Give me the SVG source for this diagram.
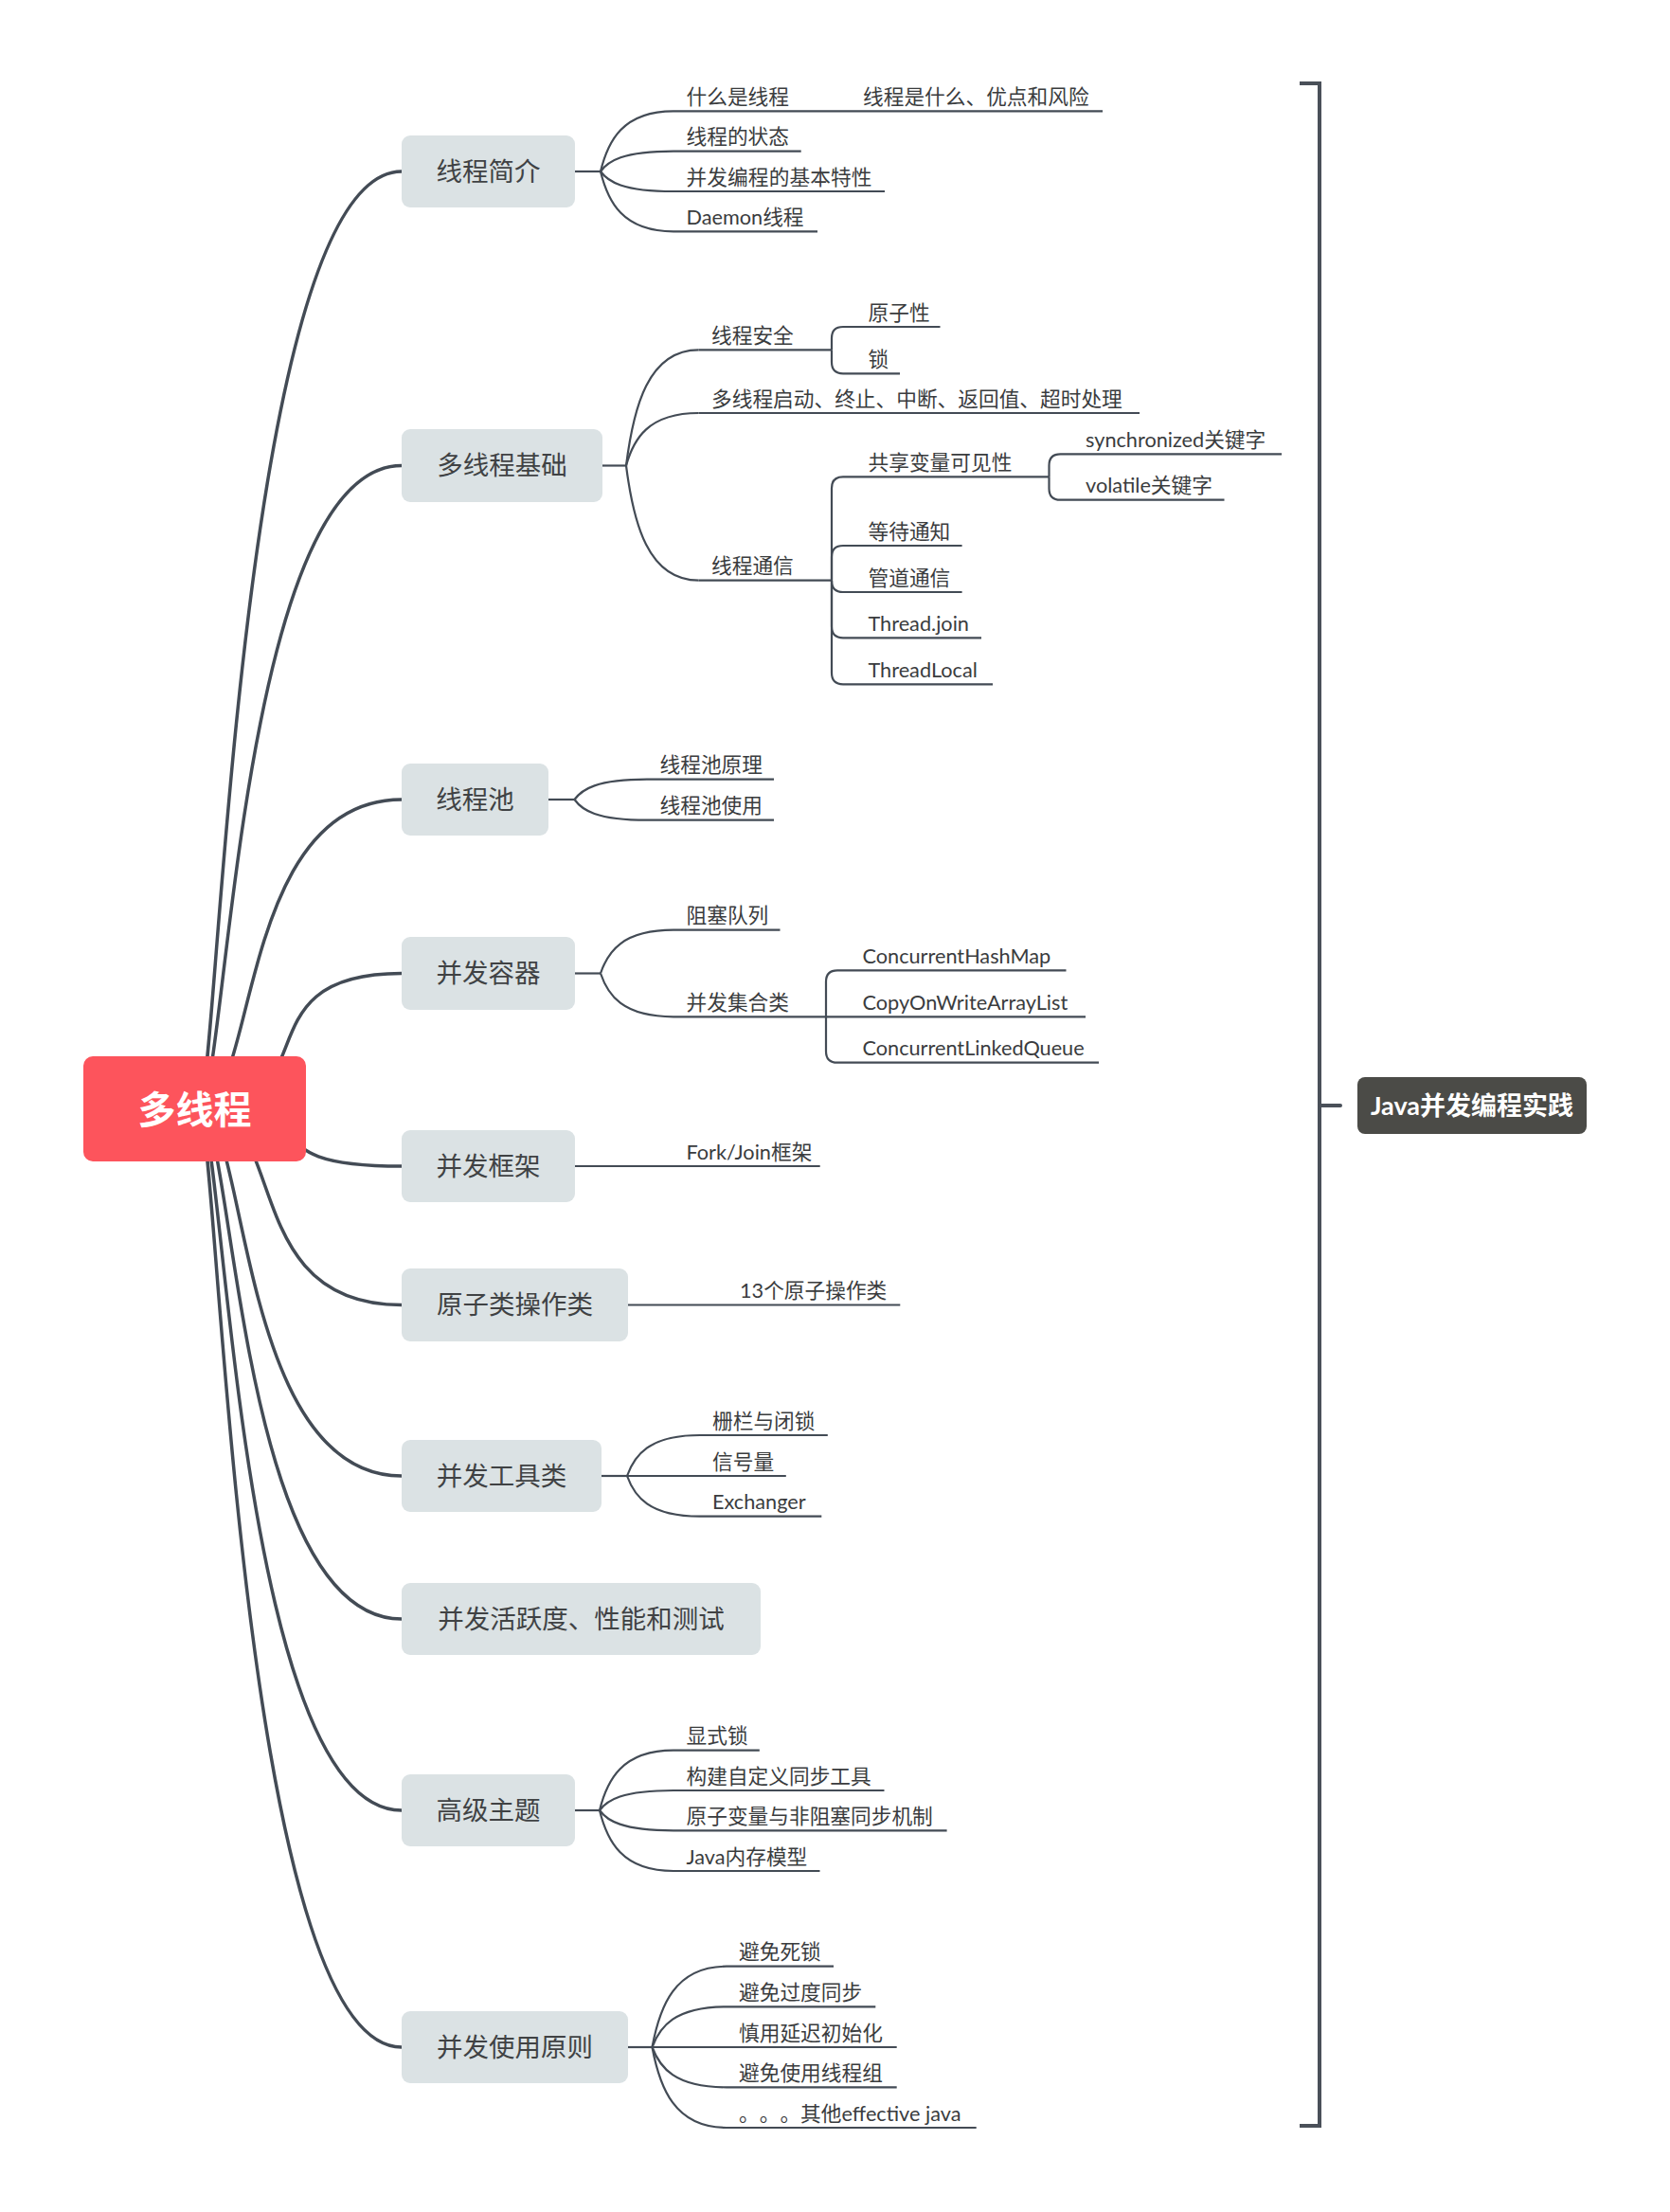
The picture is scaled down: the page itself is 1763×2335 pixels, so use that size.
<svg xmlns="http://www.w3.org/2000/svg" width="1763" height="2335" viewBox="0 0 1763 2335" style="font-family:'Lato','Noto Sans CJK SC',sans-serif">
  <style>
    .main{fill:none;stroke:#434b55;stroke-width:3.5;stroke-linecap:round}
    .sub{fill:none;stroke:#434b55;stroke-width:2.2}
    .box{fill:#dbe2e4}
    .bt{font-size:27.5px;fill:#404244;text-anchor:middle}
    .lt{font-size:21.7px;fill:#3a3c3e}
    .cjk{font-family:'Noto Sans CJK SC',sans-serif}
  </style>
  <rect width="1763" height="2335" fill="#ffffff"/>

  <!-- connectors -->
  <g id="connectors">
    <!-- root to main topics -->
    <path class="main" d="M210 1170 C230.2 1170 249.5 181 424 181"/>
    <path class="main" d="M210 1170 C239.5 1170 249.5 491.5 424 491.5"/>
    <path class="main" d="M210 1170 C271.3 1170 249.5 844 424 844"/>
    <path class="main" d="M210 1170 C350.4 1170 249.5 1027.5 424 1027.5"/>
    <path class="main" d="M210 1170 C360 1170 249.5 1231 424 1231"/>
    <path class="main" d="M210 1170 C306.4 1170 249.5 1377.5 424 1377.5"/>
    <path class="main" d="M210 1170 C261.5 1170 249.5 1558 424 1558"/>
    <path class="main" d="M210 1170 C247.1 1170 249.5 1709 424 1709"/>
    <path class="main" d="M210 1170 C237 1170 249.5 1911 424 1911"/>
    <path class="main" d="M210 1170 C230.2 1170 249.5 2161 424 2161"/>

    <!-- 线程简介 -->
    <path class="sub" d="M607 181 H634"/>
    <path class="sub" d="M634 181 C641.7 149.2 657.1 117.3 711 117.3"/>
    <path class="sub" d="M634 181 C641.7 170.3 657.1 159.6 711 159.6"/>
    <path class="sub" d="M634 181 C641.7 191.5 657.1 202 711 202"/>
    <path class="sub" d="M634 181 C641.7 212.7 657.1 244.3 711 244.3"/>
    <path class="sub" d="M711 117.3 H1164"/>
    <path class="sub" d="M711 159.6 H845.7"/>
    <path class="sub" d="M711 202 H934"/>
    <path class="sub" d="M711 244.3 H863"/>

    <!-- 多线程基础 -->
    <path class="sub" d="M636 491.5 H661"/>
    <path class="sub" d="M661 491.5 C668.7 430.4 684 369.3 737.5 369.3"/>
    <path class="sub" d="M661 491.5 C668.7 463.8 684 436 737.5 436"/>
    <path class="sub" d="M661 491.5 C668.7 552.1 684 612.7 737.5 612.7"/>
    <path class="sub" d="M737.5 369.3 H878"/>
    <path class="sub" d="M737.5 436 H1203"/>
    <path class="sub" d="M737.5 612.7 H878"/>
    <path class="sub" d="M878 369.3 V357 Q878 345 890 345 H992.5"/>
    <path class="sub" d="M878 369.3 V382.3 Q878 394.3 890 394.3 H950"/>
    <path class="sub" d="M878 612.7 V515.3 Q878 503.3 890 503.3 H1107.5"/>
    <path class="sub" d="M878 612.7 V588 Q878 576 890 576 H1015.6"/>
    <path class="sub" d="M878 612.7 V613 Q878 625 890 625 H1015.6"/>
    <path class="sub" d="M878 612.7 V661.3 Q878 673.3 890 673.3 H1036"/>
    <path class="sub" d="M878 612.7 V710.3 Q878 722.3 890 722.3 H1048"/>
    <path class="sub" d="M1107.5 503.3 V491.3 Q1107.5 479.3 1119.5 479.3 H1353"/>
    <path class="sub" d="M1107.5 503.3 V515.7 Q1107.5 527.7 1119.5 527.7 H1292.5"/>

    <!-- 线程池 -->
    <path class="sub" d="M579 844 H606.5"/>
    <path class="sub" d="M606.5 844 C614.2 833.4 629.5 822.7 683 822.7 H817"/>
    <path class="sub" d="M606.5 844 C614.2 854.9 629.5 865.7 683 865.7 H817"/>

    <!-- 并发容器 -->
    <path class="sub" d="M607 1027.5 H634"/>
    <path class="sub" d="M634 1027.5 C641.7 1004.6 657.1 981.7 711 981.7 H823.5"/>
    <path class="sub" d="M634 1027.5 C641.7 1050.4 657.1 1073.3 711 1073.3 H1146"/>
    <path class="sub" d="M872 1073.3 V1036.3 Q872 1024.3 884 1024.3 H1125.5"/>
    <path class="sub" d="M872 1073.3 V1109.7 Q872 1121.7 884 1121.7 H1160"/>

    <!-- 并发框架 -->
    <path class="sub" d="M607 1231 H865.7"/>

    <!-- 原子类操作类 -->
    <path class="sub" d="M663 1377.5 H950.3"/>

    <!-- 并发工具类 -->
    <path class="sub" d="M635 1558 H662"/>
    <path class="sub" d="M662 1558 C669.7 1536.5 685 1515 738.7 1515 H873.8"/>
    <path class="sub" d="M662 1558 H829.8"/>
    <path class="sub" d="M662 1558 C669.7 1579.4 685 1600.7 738.7 1600.7 H867.3"/>

    <!-- 高级主题 -->
    <path class="sub" d="M607 1911 H633"/>
    <path class="sub" d="M633 1911 C640.8 1879.4 656.4 1847.7 711 1847.7 H801.8"/>
    <path class="sub" d="M633 1911 C640.8 1900.5 656.4 1890 711 1890 H933.5"/>
    <path class="sub" d="M633 1911 C640.8 1921.7 656.4 1932.3 711 1932.3 H999.6"/>
    <path class="sub" d="M633 1911 C640.8 1943 656.4 1975 711 1975 H865.5"/>

    <!-- 并发使用原则 -->
    <path class="sub" d="M663 2161 H688.5"/>
    <path class="sub" d="M688.5 2161 C696.4 2118.4 712 2075.7 767 2075.7 H880"/>
    <path class="sub" d="M688.5 2161 C696.4 2139.7 712 2118.3 767 2118.3 H924.3"/>
    <path class="sub" d="M688.5 2161 H946.7"/>
    <path class="sub" d="M688.5 2161 C696.4 2182.2 712 2203.3 767 2203.3 H946.7"/>
    <path class="sub" d="M688.5 2161 C696.4 2203.5 712 2246 767 2246 H1030.7"/>

    <!-- summary bracket -->
    <path d="M1372 88 H1393 V2244 H1372" fill="none" stroke="#4a5059" stroke-width="4" stroke-linejoin="miter"/>
    <path d="M1393 1167 H1415" fill="none" stroke="#4a5059" stroke-width="4" stroke-linecap="round"/>
  </g>

  <!-- root -->
  <g id="root">
    <rect x="88" y="1115" width="235" height="111" rx="10" fill="#fd545c"/>
    <text x="205.5" y="1186" font-size="40" font-weight="bold" fill="#ffffff" text-anchor="middle">多线程</text>
  </g>

  <!-- main topics -->
  <g id="t-intro">
    <rect class="box" x="424" y="143" width="183" height="76" rx="9"/>
    <text class="bt" x="515.5" y="190.5">线程简介</text>
  </g>
  <g id="t-basics">
    <rect class="box" x="424" y="453" width="212" height="77" rx="9"/>
    <text class="bt" x="530" y="501">多线程基础</text>
  </g>
  <g id="t-pool">
    <rect class="box" x="424" y="806" width="155" height="76" rx="9"/>
    <text class="bt" x="501.5" y="853.5">线程池</text>
  </g>
  <g id="t-containers">
    <rect class="box" x="424" y="989" width="183" height="77" rx="9"/>
    <text class="bt" x="515.5" y="1037">并发容器</text>
  </g>
  <g id="t-framework">
    <rect class="box" x="424" y="1193" width="183" height="76" rx="9"/>
    <text class="bt" x="515.5" y="1240.5">并发框架</text>
  </g>
  <g id="t-atomic">
    <rect class="box" x="424" y="1339" width="239" height="77" rx="9"/>
    <text class="bt" x="543.5" y="1387">原子类操作类</text>
  </g>
  <g id="t-tools">
    <rect class="box" x="424" y="1520" width="211" height="76" rx="9"/>
    <text class="bt" x="529.5" y="1567.5">并发工具类</text>
  </g>
  <g id="t-liveness">
    <rect class="box" x="424" y="1671" width="379" height="76" rx="9"/>
    <text class="bt" x="613.5" y="1718.5">并发活跃度、性能和测试</text>
  </g>
  <g id="t-advanced">
    <rect class="box" x="424" y="1873" width="183" height="76" rx="9"/>
    <text class="bt" x="515.5" y="1920.5">高级主题</text>
  </g>
  <g id="t-principles">
    <rect class="box" x="424" y="2123" width="239" height="76" rx="9"/>
    <text class="bt" x="543.5" y="2170.5">并发使用原则</text>
  </g>

  <!-- subtopics -->
  <g id="s-intro" class="lt">
    <text x="724.5" y="109.8">什么是线程</text>
    <text x="911" y="109.8">线程是什么、优点和风险</text>
    <text x="724.5" y="152.1">线程的状态</text>
    <text x="724.5" y="194.5" textLength="196" lengthAdjust="spacing">并发编程的基本特性</text>
    <text x="724.5" y="236.8">Daemon线程</text>
  </g>
  <g id="s-basics" class="lt">
    <text x="751" y="361.8">线程安全</text>
    <text x="916.5" y="337.5">原子性</text>
    <text x="916.5" y="386.8">锁</text>
    <text x="751" y="428.5">多线程启动、终止、中断、返回值、超时处理</text>
    <text x="751" y="605.2">线程通信</text>
    <text x="916.5" y="495.8">共享变量可见性</text>
    <text x="1146" y="471.8">synchronized关键字</text>
    <text x="1146" y="520.2">volatile关键字</text>
    <text x="916.5" y="568.5">等待通知</text>
    <text x="916.5" y="617.5">管道通信</text>
    <text x="916.5" y="665.8">Thread.join</text>
    <text x="916.5" y="714.8">ThreadLocal</text>
  </g>
  <g id="s-pool" class="lt">
    <text x="696.5" y="815.2">线程池原理</text>
    <text x="696.5" y="858.2">线程池使用</text>
  </g>
  <g id="s-containers" class="lt">
    <text x="724.5" y="974.2">阻塞队列</text>
    <text x="724.5" y="1065.8">并发集合类</text>
    <text x="910.5" y="1016.8">ConcurrentHashMap</text>
    <text x="910.5" y="1065.8">CopyOnWriteArrayList</text>
    <text x="910.5" y="1114.2">ConcurrentLinkedQueue</text>
  </g>
  <g id="s-framework" class="lt">
    <text x="724.5" y="1223.5">Fork/Join框架</text>
  </g>
  <g id="s-atomic" class="lt">
    <text x="781" y="1370">13个原子操作类</text>
  </g>
  <g id="s-tools" class="lt">
    <text x="752" y="1507.5">栅栏与闭锁</text>
    <text x="752" y="1550.5">信号量</text>
    <text x="752" y="1593.2">Exchanger</text>
  </g>
  <g id="s-advanced" class="lt">
    <text x="724.5" y="1840.2">显式锁</text>
    <text x="724.5" y="1882.5">构建自定义同步工具</text>
    <text x="724.5" y="1924.8">原子变量与非阻塞同步机制</text>
    <text x="724.5" y="1967.5">Java内存模型</text>
  </g>
  <g id="s-principles" class="lt">
    <text x="780" y="2068.2">避免死锁</text>
    <text x="780" y="2110.8">避免过度同步</text>
    <text x="780" y="2153.5">慎用延迟初始化</text>
    <text x="780" y="2195.8">避免使用线程组</text>
    <text x="780" y="2238.5"><tspan class="cjk" x="780">。</tspan><tspan class="cjk" x="801.7">。</tspan><tspan class="cjk" x="823.4">。</tspan><tspan x="845.1">其他effective java</tspan></text>
  </g>

  <!-- summary label -->
  <g id="summary">
    <rect x="1433" y="1137" width="242" height="60" rx="8" fill="#4b4b47"/>
    <text x="1554" y="1177" font-size="27" font-weight="bold" fill="#ffffff" text-anchor="middle">Java并发编程实践</text>
  </g>
</svg>
